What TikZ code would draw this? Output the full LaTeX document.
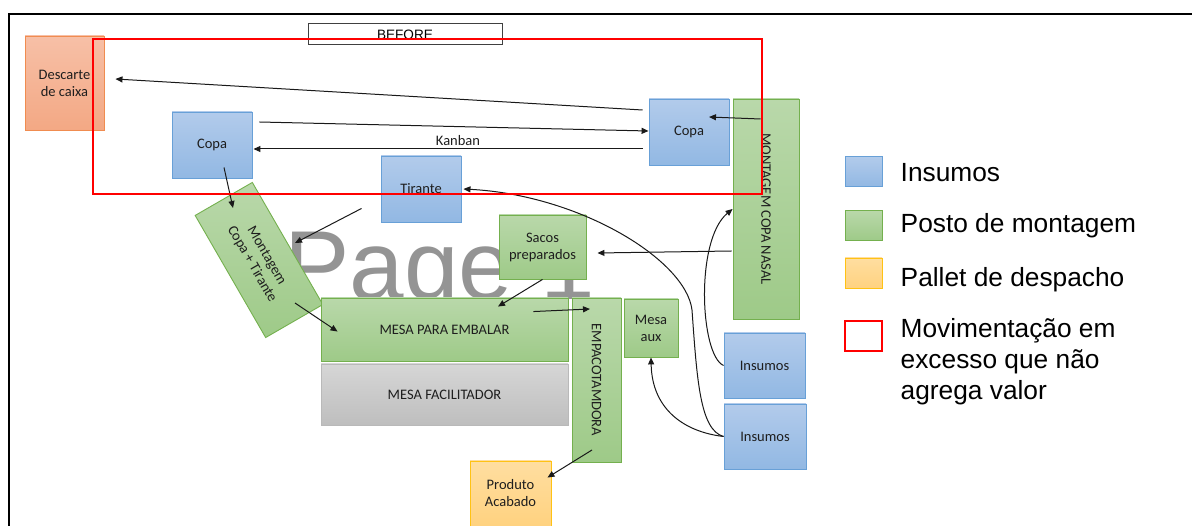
\documentclass[tikz,border=0pt]{standalone}
\usepackage{fontspec}
\setmainfont{Liberation Sans}
\newfontfamily\boxfont{Carlito}
\newfontfamily\legfont{Liberation Sans}
\usetikzlibrary{arrows.meta,calc}

\definecolor{txt}{RGB}{30,30,30}
\definecolor{lnc}{RGB}{25,25,25}
\definecolor{insTop}{RGB}{178,203,235}
\definecolor{insBot}{RGB}{146,184,227}
\definecolor{insLine}{RGB}{104,160,215}
\definecolor{grnTop}{RGB}{185,216,170}
\definecolor{grnBot}{RGB}{158,202,136}
\definecolor{grnLine}{RGB}{116,176,78}
\definecolor{orgTop}{RGB}{247,192,167}
\definecolor{orgBot}{RGB}{243,168,132}
\definecolor{orgLine}{RGB}{240,140,80}
\definecolor{yelTop}{RGB}{255,222,160}
\definecolor{yelBot}{RGB}{255,210,128}
\definecolor{yelLine}{RGB}{255,194,20}
\definecolor{gryTop}{RGB}{214,214,214}
\definecolor{gryBot}{RGB}{190,190,190}
\definecolor{gryLine}{RGB}{185,185,185}
\definecolor{wmark}{RGB}{148,148,148}
\definecolor{flagred}{RGB}{255,0,0}

\begin{document}
\begin{tikzpicture}[x=1pt,y=-1pt,
  box/.style={draw, line width=0.9pt, inner sep=1pt, align=center,
    font=\boxfont\fontsize{14.5}{17}\selectfont, text=txt},
  ins/.style={box, draw=insLine, top color=insTop, bottom color=insBot},
  grn/.style={box, draw=grnLine, top color=grnTop, bottom color=grnBot},
  org/.style={box, draw=orgLine, top color=orgTop, bottom color=orgBot},
  yel/.style={box, draw=yelLine, top color=yelTop, bottom color=yelBot},
  gry/.style={box, draw=gryLine, top color=gryTop, bottom color=gryBot},
  arr/.style={draw=lnc, line width=1pt, -{Triangle[length=7pt,width=6pt]}},
  lbl/.style={inner sep=0pt, font=\boxfont\fontsize{14.5}{17}\selectfont, text=txt},
  leg/.style={inner sep=0pt, font=\legfont\fontsize{26.3}{31}\selectfont, text=black},
  swatch/.style={minimum width=37pt, minimum height=30pt, inner sep=0pt}]

\useasboundingbox[fill=white] (0,0) rectangle (1192,526);

% sheet frame
\draw[line width=2.2pt, black] (9,526) -- (9,14) -- (1192,14);

% page watermark behind the layout
\node[anchor=base west, inner sep=0pt, text=wmark,
      font=\legfont\fontsize{98}{98}\selectfont] (wm) at (284,300) {Page 1};

% title box
\node[draw=black!75, line width=1pt, minimum width=194pt, minimum height=21pt,
      inner sep=0pt] (title) at (405,34.5) {};
\begin{scope}
  \clip (300,20) rectangle (510,40);
  \node[anchor=base, inner sep=0pt, font=\legfont\fontsize{13.6}{15}\selectfont]
    (titletxt) at (405,39.5) {BEFORE};
\end{scope}

% stations
\node[org, minimum width=79pt, minimum height=94pt] (desc) at (64.5,83) {Descarte\\de caixa};
\node[ins, minimum width=80pt, minimum height=66pt] (copaL) at (212,145) {Copa};
\node[ins, minimum width=80pt, minimum height=66pt] (copaR) at (689,132) {Copa};
\node[grn, minimum width=220pt, minimum height=66pt, rotate=-90] (nasal) at (766,209) {MONTAGEM COPA NASAL};
\node[ins, minimum width=80pt, minimum height=66pt] (tirante) at (421,189) {Tirante};
\node[grn, minimum width=87pt, minimum height=64pt] (sacos) at (542.5,247) {Sacos\\preparados};
\node[grn, minimum width=141pt, minimum height=66pt, rotate=-60] (mct) at (259,260) {Montagem\\Copa + Tirante};
\node[grn, minimum width=247pt, minimum height=63pt] (embalar) at (444.5,329.5) {MESA PARA EMBALAR};
\node[gry, minimum width=247pt, minimum height=61pt] (facil) at (444.5,394.5) {MESA FACILITADOR};
\node[grn, minimum width=164pt, minimum height=49pt, rotate=-90] (empac) at (596.5,380) {EMPACOTAMDORA};
\node[grn, minimum width=54pt, minimum height=58pt] (aux) at (651,328) {Mesa\\aux};
\node[ins, minimum width=81pt, minimum height=65pt] (ins1) at (764.5,365.5) {Insumos};
\node[ins, minimum width=82pt, minimum height=65pt] (ins2) at (765,436.5) {Insumos};
\node[yel, minimum width=81pt, minimum height=65pt] (prod) at (510.5,493.5) {Produto\\Acabado};

% flows
\draw[arr] ($(copaR.west)+(-6,-22)$) -- ($(desc.east)+(11,-4)$);
\draw[arr] ($(copaL.east)+(7,-23)$) -- ($(copaR.west)+(0,-1)$);
\draw[arr] ($(copaR.west)+(-6,17)$) -- ($(copaL.east)+(1,4)$);
\node[lbl] (kanban) at (458,141) {Kanban};
\draw[arr] ($(nasal.south)+(28,-90)$) -- ($(copaR.center)+(20,-15)$);
\draw[arr] ($(copaL.south)+(12,-11)$) -- ($(mct.center)+(-26,-52)$);
\draw[arr] ($(tirante.south west)+(-19,-14)$) -- ($(mct.center)+(36,-17)$);
\draw[arr] ($(mct.center)+(36,43)$) -- ($(embalar.north west)+(17,34)$);
\draw[arr] (sacos.south) -- ($(embalar.north)+(53.5,9)$);
\draw[arr] ($(embalar.north east)+(-35,14)$) -- ($(empac.center)+(-6.5,-71)$);
\draw[arr] ($(empac.center)+(-4.5,70)$) -- ($(prod.north east)+(-4,17)$);
\draw[arr] ($(nasal.south)+(-1,42)$) -- ($(sacos.east)+(11,6)$);
\draw[arr] (ins1.west) .. controls (700,355) and (695,240) .. (nasal.south);
\draw[arr] (ins2.west) .. controls (700,430) and (697,380) .. (692,310)
                      .. controls (686,260) and (580,195) .. ($(tirante.east)+(2,0)$);
\draw[arr] (ins2.west) .. controls (685,432) and (652,410) .. (aux.south);

% zone of wasted motion
\draw[flagred, line width=2.3pt] (93,39) rectangle (762,194);

% legend
\node[ins, swatch] (kIns) at (863.5,171.5) {};
\node[leg, anchor=base west] (kInsT) at (900.5,182) {Insumos};
\node[grn, swatch] (kGrn) at (863.5,225.5) {};
\node[leg, anchor=base west] (kGrnT) at (900.5,233) {Posto de montagem};
\node[yel, swatch] (kYel) at (863.5,273) {};
\node[leg, anchor=base west] (kYelT) at (900.5,287) {Pallet de despacho};
\node[draw=flagred, line width=1.1pt, fill=white, swatch] (kRed) at (863.5,336) {};
\node[leg, anchor=north west, align=left] (kRedT) at (900.5,318) {Movimentação em\\excesso que não\\agrega valor};
\end{tikzpicture}
\end{document}
